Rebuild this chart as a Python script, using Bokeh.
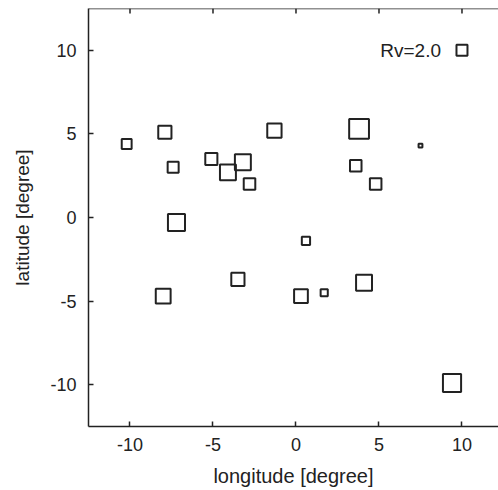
import math
from bokeh.plotting import figure
from bokeh.models import LinearAxis, FixedTicker, ColumnDataSource, Range1d, Span
from bokeh.core.properties import value
from bokeh.embed import file_html
from bokeh.resources import INLINE

# data: longitude, latitude, Rv
lon = [-10.2, -7.9, -1.3, 3.8, 7.5, -7.4, -5.1, -4.1, -3.2, -2.8,
       3.6, 4.8, -7.2, 0.6, -3.5, 4.1, -8.0, 0.3, 1.7, 9.4]
lat = [4.4, 5.1, 5.2, 5.3, 4.3, 3.0, 3.5, 2.7, 3.3, 2.0,
       3.1, 2.0, -0.3, -1.4, -3.7, -3.9, -4.7, -4.7, -4.5, -9.9]
rv = [1.8, 2.4, 2.6, 3.6, 0.7, 2.0, 2.2, 2.9, 2.9, 2.1,
      2.1, 2.1, 3.1, 1.5, 2.4, 2.9, 2.7, 2.5, 1.3, 3.3]

legend_lon = [10.0]
legend_lat = [10.0]
legend_rv = [2.0]
legend_text = ["Rv=2.0"]

ticks = [-10, -5, 0, 5, 10]
tick_labels = ["-10", "-5", "0", "5", "10"]
X_MIN, X_MAX = -12.5, 12.2
Y_MIN, Y_MAX = -12.5, 12.5

PX_PER_RV = 5.5
FONT = "Liberation Sans"
INK = "#222222"

src = ColumnDataSource(dict(x=lon, y=lat, s=[r * PX_PER_RV for r in rv]))
lsrc = ColumnDataSource(dict(x=legend_lon, y=legend_lat,
                             s=[r * PX_PER_RV for r in legend_rv], t=legend_text))

p = figure(width=498, height=490, output_backend="svg", toolbar_location=None,
           x_range=Range1d(X_MIN, X_MAX), y_range=Range1d(Y_MIN, Y_MAX),
           x_axis_location=None, y_axis_location=None,
           min_border_left=88, min_border_right=0, min_border_top=8, min_border_bottom=64)
p.grid.visible = False
p.outline_line_color = None
p.background_fill_color = "white"

def style(ax):
    ax.ticker = FixedTicker(ticks=ticks)
    ax.major_label_overrides = {t: lab for t, lab in zip(ticks, tick_labels)}
    ax.minor_tick_line_color = None
    ax.major_tick_in = 5
    ax.major_tick_out = 0
    ax.major_tick_line_color = INK
    ax.major_tick_line_width = 1.5
    ax.axis_line_color = INK
    ax.axis_line_width = 1.5
    ax.major_label_text_font = FONT
    ax.major_label_text_color = INK
    ax.major_label_text_font_size = "18px"
    ax.axis_label_text_font = FONT
    ax.axis_label_text_color = INK
    ax.axis_label_text_font_style = "normal"
    ax.axis_label_text_font_size = "19px"

xb = LinearAxis(axis_label="longitude [degree]")
style(xb)
xb.axis_label_text_font_size = "20px"
xb.major_label_standoff = 11
xb.axis_label_standoff = 11
p.add_layout(xb, "below")

yl = LinearAxis(axis_label="latitude [degree]")
style(yl)
yl.major_label_standoff = 12
yl.axis_label_standoff = 14
p.add_layout(yl, "left")

# top frame line with inward ticks
p.add_layout(Span(location=Y_MAX, dimension="width", line_color=INK, line_width=1.5))
p.ray(x=ticks, y=[Y_MAX] * len(ticks), length=5, length_units="screen",
      angle=-math.pi / 2, line_color=INK, line_width=1.5)

p.scatter("x", "y", size="s", source=src, marker="square", fill_color=None,
          line_color=INK, line_width=2)
p.scatter("x", "y", size="s", source=lsrc, marker="square", fill_color=None,
          line_color=INK, line_width=2)
p.text("x", "y", text="t", source=lsrc, x_offset=-21, text_align="right",
       text_baseline="middle", text_font=value(FONT), text_font_size="19px",
       text_color=INK)

open("out.html", "w").write(file_html(p, INLINE))
